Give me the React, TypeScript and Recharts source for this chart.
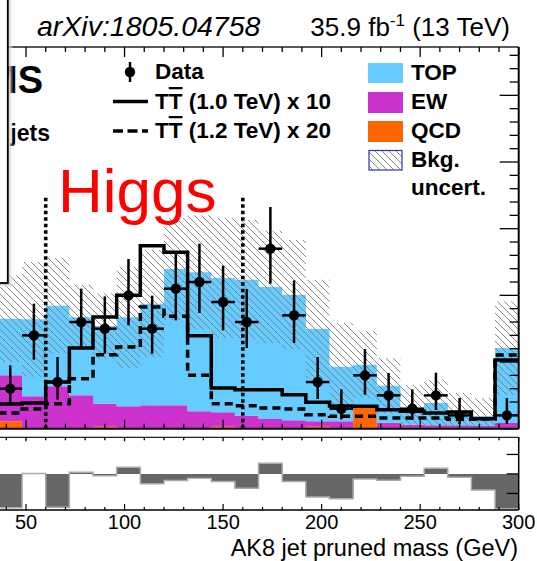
import React from 'react';
import { ComposedChart, Area, Line, Scatter, ErrorBar, XAxis, YAxis, ReferenceLine } from 'recharts';

// 12 GeV bins, low edges (GeV)
const binLow = [36, 48, 60, 72, 84, 96, 108, 120, 132, 144, 156, 168, 180, 192, 204, 216, 228, 240, 252, 264, 276, 288];
const binEnd = 300;

// stacked backgrounds (events / bin)
const qcd = [1.1, 0, 0, 0, 0.3, 0, 0, 0, 0, 0.3, 0, 0, 0, 0.3, 0, 3.2, 0, 0, 0, 0, 0, 0];
const ew = [6.9, 4.85, 6.35, 5.0, 3.45, 3.35, 3.5, 3.5, 2.6, 2.15, 1.95, 1.45, 1.25, 0.8, 1.1, 0, 0.9, 0.6, 0.5, 0.5, 0.4, 0.85];
const topBkg = [8.5, 11.55, 12.1, 11.7, 11.65, 13.35, 15.25, 20.45, 20.85, 20.15, 20.4, 19.8, 18.85, 13.85, 8.2, 6.4, 5.55, 2.4, 3.35, 2.2, 1.5, 11.25];
const bkgUnc = [6.5, 8.6, 7.15, 4.9, 4.9, 7.6, 8.05, 7.65, 8.55, 9.0, 8.95, 8.45, 8.2, 7.4, 6.55, 5.0, 4.15, 3.6, 3.5, 2.65, 2.7, 7.0];

// data
const dataCounts = [6, 14, 7, 16, 15, 20, 15, 21, 22, 19, 16, 27, 17, 7, 3, 8, 5, 3, 5, 2, 0, 2];
const dataErrLow = [2.15, 3.65, 2.65, 3.85, 3.75, 4.5, 3.75, 4.75, 4.65, 4.25, 3.9, 5.25, 4.15, 2.55, 1.6, 2.9, 2.2, 1.6, 2.2, 1.3, 0, 1.3];
const dataErrHigh = [3.5, 4.75, 3.75, 5.0, 4.85, 5.45, 4.95, 5.25, 5.75, 5.45, 4.95, 6.25, 5.25, 3.75, 2.9, 3.95, 3.35, 2.9, 3.4, 2.6, 0, 2.6];

// signals
const sig10 = [3.7, 3.85, 7.0, 12.1, 16.75, 20.0, 27.45, 26.45, 13.95, 6.1, 5.85, 5.85, 5.1, 3.95, 3.4, 3.35, 2.85, 2.6, 2.35, 2.5, 1.5, 10.3];
const sig12 = [2.35, 2.95, 3.75, 7.5, 11.1, 12.25, 18.25, 16.85, 8.0, 3.75, 3.45, 3.1, 2.95, 2.1, 1.85, 1.85, 1.6, 1.6, 1.6, 1.4, 1.45, 11.05];

// lower panel
const pull = [-1.74, 0.02, -1.71, 0.09, -0.09, 0.34, -0.5, -0.34, -0.22, -0.39, -0.73, 0.55, -0.39, -1.18, -1.27, -0.26, -0.32, -0.12, 0.29, -0.17, -0.82, -1.78];

const higgsWindow = [60, 160];
const xTicks = [40, 50, 60, 70, 80, 90, 100, 110, 120, 130, 140, 150, 160, 170, 180, 190, 200, 210, 220, 230, 240, 250, 260, 270, 280, 290, 300];
const xLabels = [50, 100, 150, 200, 250, 300];
const yTicks = [0, 2, 4, 6, 8, 10, 12, 14, 16, 18, 20, 22, 24, 26, 28, 30, 32, 34, 36, 38, 40, 42, 44, 46, 48, 50, 52, 54, 56];
const pullTicks = [-1, 0, 1];

const FONT = '"Liberation Sans", Arial, Helvetica, sans-serif';

const rows = binLow.map((x, i) => {
  const tot = qcd[i] + ew[i] + topBkg[i];
  return {
    x,
    qcd: qcd[i],
    ew: ew[i],
    top: topBkg[i],
    band: [Math.max(0, tot - bkgUnc[i]), tot + bkgUnc[i]],
    s10: sig10[i],
    s12: sig12[i],
    pull: pull[i],
  };
});
rows.push({ ...rows[rows.length - 1], x: binEnd });

const points = binLow
  .map((x, i) => ({ x: x + 6, y: dataCounts[i], ex: 6, ey: [dataErrLow[i], dataErrHigh[i]] }))
  .filter((p) => p.y > 0);

const xDomain = [36.8, 300];

const BottomTick = (props: any) => {
  const { x, y, payload, big = 10, small = 5 } = props;
  const len = payload.value % 50 === 0 ? big : small;
  return <line x1={x} x2={x} y1={y} y2={y - len} stroke="#000" strokeWidth={1.3} />;
};

const TopTick = (props: any) => {
  const { x, y, payload, big = 10, small = 5 } = props;
  const len = payload.value % 50 === 0 ? big : small;
  return <line x1={x} x2={x} y1={y} y2={y + len} stroke="#000" strokeWidth={1.3} />;
};

const LabelTick = (props: any) => {
  const { x, y, payload } = props;
  const len = payload.value % 50 === 0 ? 6 : 3;
  return (
    <g>
      <line x1={x} x2={x} y1={y} y2={y - len} stroke="#000" strokeWidth={1.2} />
      {xLabels.includes(payload.value) && (
        <text x={x} y={y + 18.5} textAnchor="middle" fontFamily={FONT} fontSize={20} fill="#000">
          {payload.value}
        </text>
      )}
    </g>
  );
};

const RightTick = (props: any) => {
  const { x, y, payload } = props;
  const len = payload.value % 10 === 0 ? 19 : 9;
  return <line x1={x} x2={x - len} y1={y} y2={y} stroke="#000" strokeWidth={1.3} />;
};

const PullTick = (props: any) => {
  const { x, y } = props;
  return <line x1={x} x2={x - 12} y1={y} y2={y} stroke="#000" strokeWidth={1.3} />;
};

const dot = (props: any) => <circle cx={props.cx} cy={props.cy} r={5.2} fill="#000" />;

export default function App() {
  return (
    <div style={{ position: 'absolute', left: 0, top: 0, width: 537, height: 561, background: '#fff', overflow: 'hidden' }}>
      <div style={{ position: 'absolute', left: 0, top: 0 }}>
        <ComposedChart width={537} height={440} data={rows} margin={{ top: 46, right: 17.3, bottom: 10.3, left: 0 }}>
          <defs>
            <pattern id="hatchMain" width="7" height="7" patternUnits="userSpaceOnUse">
              <path d="M-1,-1 L8,8 M-1,6 L1,8 M6,-1 L8,1" stroke="#7a7a7a" strokeWidth="0.9" />
            </pattern>
          </defs>
          <XAxis xAxisId="b" dataKey="x" type="number" domain={xDomain} allowDataOverflow height={1}
            ticks={xTicks} interval={0} tickSize={0} tickMargin={0} tickLine={false}
            axisLine={{ stroke: '#000', strokeWidth: 2 }} tick={<BottomTick big={9} small={5} />} />
          <XAxis xAxisId="t" dataKey="x" type="number" orientation="top" domain={xDomain} allowDataOverflow height={1}
            ticks={xTicks} interval={0} tickSize={0} tickMargin={0} tickLine={false}
            axisLine={{ stroke: '#222', strokeWidth: 1.5 }} tick={<TopTick big={10} small={5} />} />
          <YAxis yAxisId="r" orientation="right" type="number" domain={[0, 57.25]} allowDataOverflow width={1}
            ticks={yTicks} interval={0} tickSize={0} tickMargin={0} tickLine={false}
            axisLine={{ stroke: '#000', strokeWidth: 2 }} tick={<RightTick />} />

          <Area xAxisId="b" yAxisId="r" type="stepAfter" dataKey="qcd" stackId="bkg" fill="#ff6600" fillOpacity={1} stroke="none" isAnimationActive={false} />
          <Area xAxisId="b" yAxisId="r" type="stepAfter" dataKey="ew" stackId="bkg" fill="#cc33cc" fillOpacity={1} stroke="none" isAnimationActive={false} />
          <Area xAxisId="b" yAxisId="r" type="stepAfter" dataKey="top" stackId="bkg" fill="#66ccff" fillOpacity={1} stroke="none" isAnimationActive={false} />
          <Area xAxisId="b" yAxisId="r" type="stepAfter" dataKey="band" fill="url(#hatchMain)" fillOpacity={1} stroke="none" isAnimationActive={false} />

          {higgsWindow.map((m) => (
            <ReferenceLine key={m} xAxisId="b" yAxisId="r" segment={[{ x: m, y: 0 }, { x: m, y: 34.95 }]}
              stroke="#000" strokeWidth={3.6} strokeDasharray="3.5 3" ifOverflow="visible" />
          ))}

          <Line xAxisId="b" yAxisId="r" type="stepAfter" dataKey="s12" stroke="#000" strokeWidth={3.5} strokeDasharray="8 5" dot={false} isAnimationActive={false} />
          <Line xAxisId="b" yAxisId="r" type="stepAfter" dataKey="s10" stroke="#000" strokeWidth={3.5} dot={false} isAnimationActive={false} />

          <Scatter xAxisId="b" yAxisId="r" data={points} dataKey="y" shape={dot} isAnimationActive={false}>
            <ErrorBar dataKey="ey" direction="y" width={0} stroke="#000" strokeWidth={2.5} />
            <ErrorBar dataKey="ex" direction="x" width={0} stroke="#000" strokeWidth={2.5} />
          </Scatter>
        </ComposedChart>
      </div>

      <div style={{ position: 'absolute', left: 0, top: 430 }}>
        <ComposedChart width={537} height={131} data={rows} margin={{ top: 6.3, right: 17.3, bottom: 50, left: 0 }}>
          <XAxis xAxisId="b" dataKey="x" type="number" domain={xDomain} allowDataOverflow height={1}
            ticks={xTicks} interval={0} tickSize={0} tickMargin={0} tickLine={false}
            axisLine={{ stroke: '#000', strokeWidth: 1.5 }} tick={<LabelTick />} />
          <XAxis xAxisId="t" dataKey="x" type="number" orientation="top" domain={xDomain} allowDataOverflow height={1}
            ticks={xTicks} interval={0} tickSize={0} tickMargin={0} tickLine={false}
            axisLine={{ stroke: '#222', strokeWidth: 1.2 }} tick={<TopTick big={4} small={3} />} />
          <YAxis yAxisId="r" orientation="right" type="number" domain={[-1.85, 1.88]} allowDataOverflow width={1}
            ticks={pullTicks} interval={0} tickSize={0} tickMargin={0} tickLine={false}
            axisLine={{ stroke: '#000', strokeWidth: 1.5 }} tick={<PullTick />} />
          <Area xAxisId="b" yAxisId="r" type="stepAfter" dataKey="pull" baseValue={0} fill="#666666" fillOpacity={1}
            stroke="#aaaaaa" strokeWidth={1.5} isAnimationActive={false} />
        </ComposedChart>
      </div>

      <svg width={537} height={561} style={{ position: 'absolute', left: 0, top: 0, pointerEvents: 'none' }}>
        <defs>
          <pattern id="hatchLeg" width="7" height="7" patternUnits="userSpaceOnUse">
            <path d="M-1,-1 L8,8 M-1,6 L1,8 M6,-1 L8,1" stroke="#7a7a7a" strokeWidth="0.9" />
          </pattern>
          <linearGradient id="shadeX" x1="0" x2="1" y1="0" y2="0">
            <stop offset="0" stopColor="#bdbdbd" />
            <stop offset="1" stopColor="#ffffff" stopOpacity={0} />
          </linearGradient>
          <linearGradient id="shadeY" x1="0" x2="0" y1="0" y2="1">
            <stop offset="0" stopColor="#bdbdbd" />
            <stop offset="1" stopColor="#ffffff" stopOpacity={0} />
          </linearGradient>
        </defs>

        {/* header */}
        <text x={37} y={35.5} fontFamily={FONT} fontStyle="italic" fontSize={28.5} fill="#000">arXiv:1805.04758</text>
        <text x={510} y={36} textAnchor="end" fontFamily={FONT} fontSize={26} fill="#000">
          35.9 fb<tspan dy={-10} fontSize={17}>-1</tspan><tspan dy={10} fontSize={26}>{'\u00a0(13 TeV)'}</tspan>
        </text>

        {/* CMS label, partly covered */}
        <text x={43} y={93} textAnchor="end" fontFamily={FONT} fontWeight="bold" fontSize={38} fill="#000">CMS</text>
        <text x={50} y={141} textAnchor="end" fontFamily={FONT} fontWeight="bold" fontSize={23} fill="#000">jets</text>

        <text x={58} y={212} fontFamily={FONT} fontSize={62} fill="#ff0000">Higgs</text>

        {/* legend left */}
        <line x1={130} x2={130} y1={62} y2={82} stroke="#000" strokeWidth={2.5} />
        <circle cx={130} cy={72} r={5.2} fill="#000" />
        <text x={155} y={79} fontFamily={FONT} fontWeight="bold" fontSize={22.5}>Data</text>
        <line x1={113} x2={148} y1={101.5} y2={101.5} stroke="#000" strokeWidth={3.5} />
        <text x={155} y={109} fontFamily={FONT} fontWeight="bold" fontSize={22.5}>
          T<tspan style={{ textDecoration: 'overline' }}>T</tspan> (1.0 TeV) x 10
        </text>
        <line x1={113} x2={148} y1={131} y2={131} stroke="#000" strokeWidth={3.5} strokeDasharray="10 4.5" />
        <text x={155} y={138} fontFamily={FONT} fontWeight="bold" fontSize={22.5}>
          T<tspan style={{ textDecoration: 'overline' }}>T</tspan> (1.2 TeV) x 20
        </text>

        {/* legend right */}
        <rect x={368} y={63} width={35} height={20} fill="#66ccff" />
        <text x={411} y={80} fontFamily={FONT} fontWeight="bold" fontSize={22.5}>TOP</text>
        <rect x={368} y={92} width={35} height={21} fill="#cc33cc" />
        <text x={411} y={109} fontFamily={FONT} fontWeight="bold" fontSize={22.5}>EW</text>
        <rect x={368} y={121} width={35} height={21} fill="#ff6600" />
        <text x={411} y={138} fontFamily={FONT} fontWeight="bold" fontSize={22.5}>QCD</text>
        <rect x={369} y={150.5} width={33} height={19.5} fill="url(#hatchLeg)" stroke="#3333aa" strokeWidth={1.2} />
        <text x={411} y={167} fontFamily={FONT} fontWeight="bold" fontSize={22.5}>Bkg.</text>
        <text x={411} y={195} fontFamily={FONT} fontWeight="bold" fontSize={22.5}>uncert.</text>

        {/* x title */}
        <text x={518} y={556} textAnchor="end" fontFamily={FONT} fontSize={23.5}>AK8 jet pruned mass (GeV)</text>

        {/* overlapping panel box */}
        <rect x={8.5} y={0} width={5} height={284} fill="url(#shadeX)" />
        <rect x={0} y={284} width={13} height={4} fill="url(#shadeY)" />
        <rect x={-5} y={-5} width={12.8} height={288} fill="#fff" stroke="#000" strokeWidth={1.8} />
      </svg>
    </div>
  );
}
